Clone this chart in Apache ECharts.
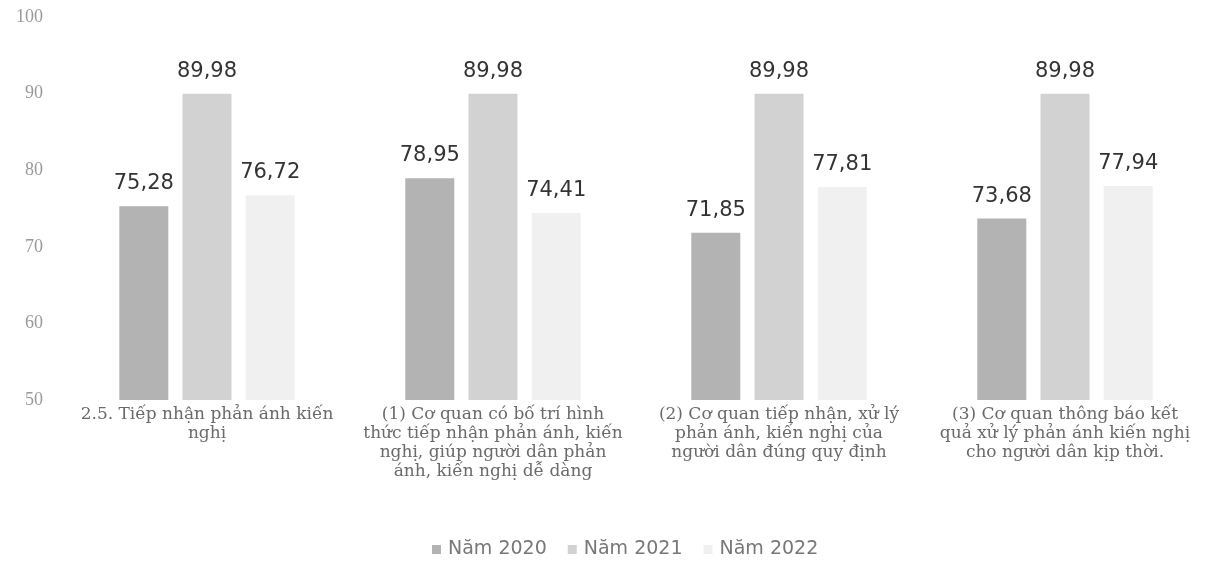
<!DOCTYPE html>
<html>
<head>
<meta charset="utf-8">
<script src="https://cdn.jsdelivr.net/npm/echarts@6/dist/echarts.min.js"></script>
<style>
  html, body { margin: 0; padding: 0; background: #ffffff; }
  #chart { width: 1211px; height: 570px; }
</style>
</head>
<body>
<div id="chart"></div>
<script>
// Survey criteria (category axis)
const categories = [
  '2.5. Tiếp nhận phản ánh kiến\nnghị',
  '(1) Cơ quan có bố trí hình\nthức tiếp nhận phản ánh, kiến\nnghị, giúp người dân phản\nánh, kiến nghị dễ dàng',
  '(2) Cơ quan tiếp nhận, xử lý\nphản ánh, kiến nghị của\nngười dân đúng quy định',
  '(3) Cơ quan thông báo kết\nquả xử lý phản ánh kiến nghị\ncho người dân kịp thời.'
];

// Scores by year
const seriesNames = ['Năm 2020', 'Năm 2021', 'Năm 2022'];
const values2020 = [75.28, 78.95, 71.85, 73.68];
const values2021 = [89.98, 89.98, 89.98, 89.98];
const values2022 = [76.72, 74.41, 77.81, 77.94];

// Value axis
const yMin = 50;
const yMax = 100;
const yStep = 10;

const colors = ['#b3b3b3', '#d2d2d2', '#f0f0f0'];

const fmt = v => v.toFixed(2).replace('.', ',');

function makeSeries(name, data, color) {
  return {
    name: name,
    type: 'bar',
    data: data,
    barWidth: 49,
    barGap: '29%',
    itemStyle: { color: color },
    label: {
      show: true,
      position: 'top',
      distance: 12,
      formatter: p => fmt(p.value),
      fontFamily: 'DejaVu Sans',
      fontSize: 21,
      color: '#333333'
    }
  };
}

const chart = echarts.init(document.getElementById('chart'), null, { renderer: 'canvas' });
chart.setOption({
  animation: false,
  backgroundColor: '#ffffff',
  color: colors,
  grid: { left: 64, right: 3, top: 17, bottom: 170, containLabel: false },
  xAxis: {
    type: 'category',
    data: categories,
    axisLine: { show: false },
    axisTick: { show: false },
    axisLabel: {
      interval: 0,
      margin: 5,
      fontFamily: 'DejaVu Serif',
      fontSize: 17,
      lineHeight: 19,
      color: '#6a6a6a',
      align: 'center'
    }
  },
  yAxis: {
    type: 'value',
    min: yMin,
    max: yMax,
    interval: yStep,
    axisLine: { show: false },
    axisTick: { show: false },
    splitLine: { show: false },
    axisLabel: {
      margin: 21,
      fontFamily: 'Liberation Serif',
      fontSize: 18,
      color: '#999999'
    }
  },
  legend: {
    data: seriesNames,
    bottom: 6,
    left: 427,
    itemWidth: 9,
    itemHeight: 9,
    itemGap: 21,
    icon: 'rect',
    textStyle: { fontFamily: 'DejaVu Sans', fontSize: 19, color: '#777777', padding: [0, 0, 0, 2] }
  },
  series: [
    makeSeries(seriesNames[0], values2020, colors[0]),
    makeSeries(seriesNames[1], values2021, colors[1]),
    makeSeries(seriesNames[2], values2022, colors[2])
  ]
});
</script>
</body>
</html>
